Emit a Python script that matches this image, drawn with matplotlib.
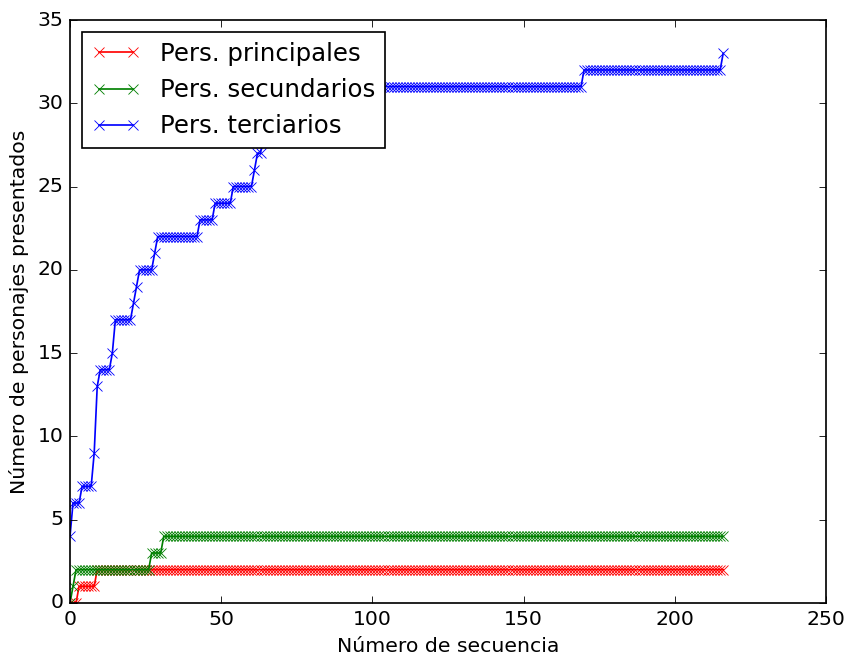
import numpy as np
import matplotlib

matplotlib.use("Agg")
import matplotlib.pyplot as plt

# step data: (first sequence number, value from there on)
n_sequences = 217

principales_x = [0, 3, 9]
principales_y = [0, 1, 2]

secundarios_x = [0, 1, 2, 27, 31]
secundarios_y = [0, 1, 2, 3, 4]

terciarios_x = [0, 1, 4, 8, 9, 10, 14, 15, 21, 22, 23, 28, 29, 43, 48, 54,
                61, 62, 64, 67, 71, 79, 170, 216]
terciarios_y = [4, 6, 7, 9, 13, 14, 15, 17, 18, 19, 20, 21, 22, 23, 24, 25,
                26, 27, 28, 29, 30, 31, 32, 33]

series_labels = ["Pers. principales", "Pers. secundarios", "Pers. terciarios"]


def expand_steps(starts, values, n):
    ends = starts[1:] + [n]
    counts = [e - s for s, e in zip(starts, ends)]
    return np.repeat(values, counts)


x = np.arange(n_sequences)
red = expand_steps(principales_x, principales_y, n_sequences)
green = expand_steps(secundarios_x, secundarios_y, n_sequences)
blue = expand_steps(terciarios_x, terciarios_y, n_sequences)

plt.style.use("classic")
fig = plt.figure(figsize=(847 / 122, 662 / 122), dpi=122, facecolor="white")
ax = fig.add_axes([70 / 847, 59 / 662, 756 / 847, 583 / 662])

ax.plot(x, red, "r-x", label=series_labels[0])
ax.plot(x, green, "g-x", label=series_labels[1])
ax.plot(x, blue, "b-x", label=series_labels[2])

ax.set_xlim(0, 250)
ax.set_ylim(0, 35)
ax.set_xlabel("Número de secuencia")
ax.set_ylabel("Número de personajes presentados")
ax.legend(loc="upper left")

fig.savefig("out.png", dpi=122, facecolor="white")
